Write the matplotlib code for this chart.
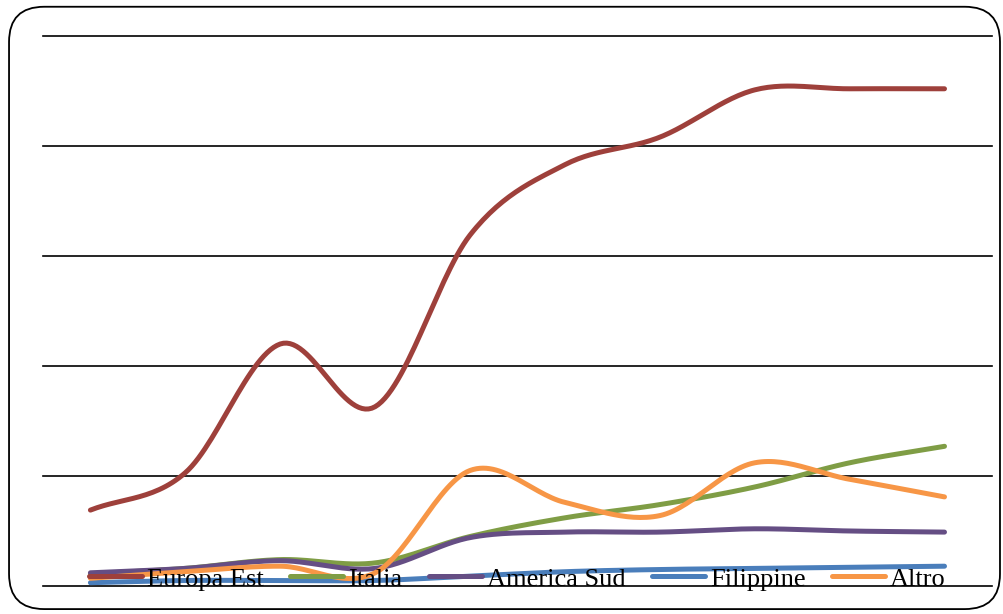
import matplotlib
matplotlib.use('Agg')
import matplotlib.pyplot as plt
import numpy as np
from matplotlib.patches import FancyBboxPatch

# serie storiche (10 anni), valori per provenienza
anni = np.arange(10)
europa_est = [69, 103, 220, 163, 319, 383, 408, 451, 452, 452]
italia = [11, 16, 24, 21, 45, 62, 74, 90, 112, 127]
america_sud = [12, 16, 23, 16, 44, 49, 49, 52, 50, 49]
filippine = [3, 5, 5, 5, 9, 13, 15, 16, 17, 18]
altro = [7, 13, 18, 12, 105, 76, 64, 112, 97, 81]

serie = ['Europa Est', 'Italia', 'America Sud', 'Filippine', 'Altro']
valori = [europa_est, italia, america_sud, filippine, altro]
colori = ['#9E403B', '#7F9D45', '#654E84', '#4A7EBB', '#F79646']


def smooth(x, y, n=30):
    # curva smussata stile Excel (Catmull-Rom)
    x = np.asarray(x, float)
    y = np.asarray(y, float)
    px = np.concatenate([[2 * x[0] - x[1]], x, [2 * x[-1] - x[-2]]])
    py = np.concatenate([[2 * y[0] - y[1]], y, [2 * y[-1] - y[-2]]])
    xs, ys = [], []
    t = np.linspace(0, 1, n)
    for i in range(1, len(px) - 2):
        for p, out in ((px, xs), (py, ys)):
            p0, p1, p2, p3 = p[i - 1], p[i], p[i + 1], p[i + 2]
            out.append(0.5 * (2 * p1 + (-p0 + p2) * t
                              + (2 * p0 - 5 * p1 + 4 * p2 - p3) * t ** 2
                              + (-p0 + 3 * p1 - 3 * p2 + p3) * t ** 3))
    return np.concatenate(xs), np.concatenate(ys)


plt.rcParams['font.family'] = ['Liberation Serif', 'DejaVu Serif']

fig = plt.figure(figsize=(10.04, 6.14), dpi=100)
fig.patches.append(FancyBboxPatch((0.009, 0.008), 0.987, 0.981,
                                  boxstyle='round,pad=0,rounding_size=0.035',
                                  transform=fig.transFigure, fill=False,
                                  edgecolor='black', linewidth=1.3,
                                  mutation_aspect=1004 / 614))

ax = fig.add_axes([0.0428, 0.0456, 0.9452, 0.8958])

for nome, y, c in zip(serie, valori, colori):
    xs, ys = smooth(anni, y)
    ax.plot(xs, ys, color=c, linewidth=3.6, solid_capstyle='round', label=nome)

ax.set_xlim(-0.5, 9.5)
ax.set_ylim(0, 500)
ax.set_yticks(np.arange(0, 501, 100))
ax.yaxis.grid(True, color='black', linewidth=1.2)
for g in ax.get_ygridlines():
    g.set_clip_on(False)
ax.set_axisbelow(True)
ax.tick_params(left=False, bottom=False, labelleft=False, labelbottom=False)
for s in ax.spines.values():
    s.set_visible(False)

leg = ax.legend(ncol=5, loc='center', bbox_to_anchor=(0.5, 0.013),
                frameon=False, fontsize=19, handlelength=2.0,
                handletextpad=0.2, columnspacing=1.0, borderpad=0)
leg.set_zorder(10)

fig.savefig('out.png', dpi=100)
